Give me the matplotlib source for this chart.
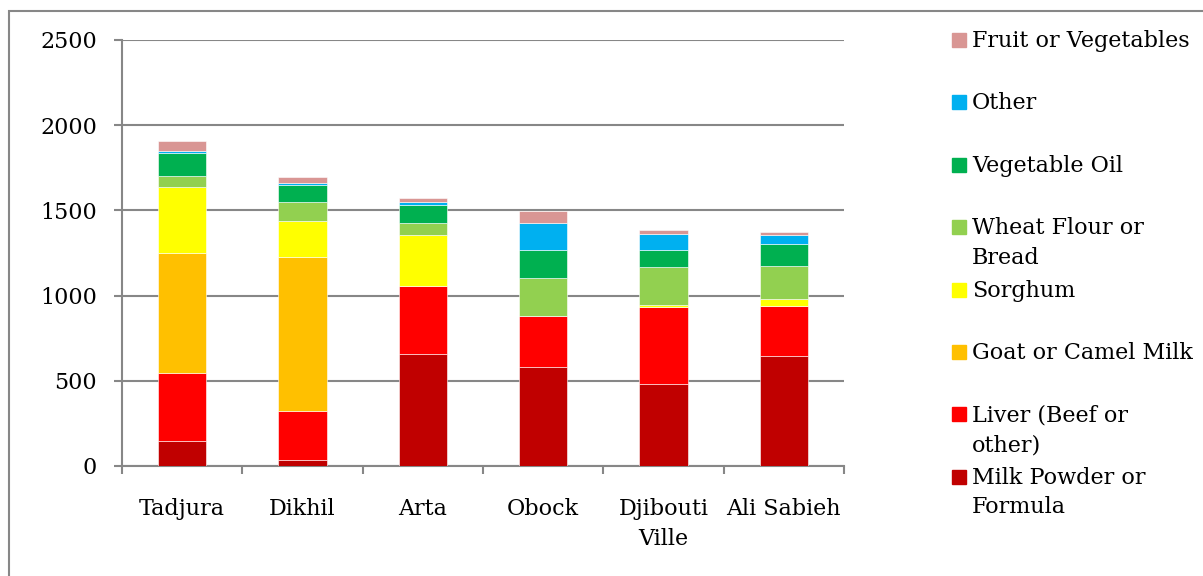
import matplotlib
matplotlib.use("Agg")
from matplotlib import pyplot as plt
from matplotlib.patches import Rectangle
import numpy as np

regions = ["Tadjura", "Dikhil", "Arta", "Obock", "Djibouti\nVille", "Ali Sabieh"]

# stacked from the bottom up
milk_powder = [145, 37, 655, 579, 479, 645]
liver = [402, 285, 402, 302, 455, 293]
goat_milk = [703, 905, 0, 0, 0, 0]
sorghum = [385, 211, 297, 0, 10, 43]
wheat_flour = [67, 109, 69, 225, 221, 191]
veg_oil = [134, 104, 111, 164, 105, 128]
other = [12, 12, 17, 158, 90, 58]
fruit_veg = [57, 31, 20, 67, 25, 15]

series = [milk_powder, liver, goat_milk, sorghum, wheat_flour, veg_oil, other, fruit_veg]
names = ["Milk Powder or\nFormula", "Liver (Beef or\nother)", "Goat or Camel Milk",
         "Sorghum", "Wheat Flour or\nBread", "Vegetable Oil", "Other",
         "Fruit or Vegetables"]
colors = ["#C00000", "#FF0000", "#FFC000", "#FFFF00", "#92D050", "#00B050",
          "#00B0F0", "#D99694"]

plt.rcParams["font.family"] = ["DejaVu Serif"]
grey = "#878787"

fig = plt.figure(figsize=(12.03, 5.76), dpi=100)
ax = fig.add_axes([0.1014, 0.191, 0.6002, 0.7396])

x = np.arange(len(regions))
bottom = np.zeros(len(regions))
for vals, col in zip(series, colors):
    ax.bar(x, vals, width=0.4, bottom=bottom, color=col,
           edgecolor="white", linewidth=0.4, zorder=3)
    bottom += np.array(vals)

ax.set_xlim(-0.5, len(regions) - 0.5)
ax.set_ylim(0, 2500)
ax.set_yticks(range(0, 2501, 500))
ax.yaxis.grid(True, color=grey, linewidth=1.5, zorder=0)

ax.set_xticks(x)
ax.set_xticklabels(regions, fontsize=16, linespacing=1.45)
ax.set_xticks(np.arange(-0.5, len(regions)), minor=True)
ax.tick_params(axis="x", which="major", length=0, pad=23)
ax.tick_params(axis="x", which="minor", length=6, width=1.5, color=grey,
               direction="out")
ax.tick_params(axis="y", length=6, width=1.5, color=grey, pad=12, labelsize=16)

for side in ["top", "right"]:
    ax.spines[side].set_visible(False)
for side in ["left", "bottom"]:
    ax.spines[side].set_color(grey)
    ax.spines[side].set_linewidth(1.5)

# legend, top entry first
W, H = 1203, 576
for i, (name, col) in enumerate(zip(names[::-1], colors[::-1])):
    top = 30 + i * 62.4
    fig.add_artist(Rectangle((952 / W, 1 - (top + 17) / H), 14 / W, 14 / H,
                             transform=fig.transFigure, color=col))
    fig.text(972 / W, 1 - top / H, name, fontsize=16, va="top", ha="left",
             linespacing=1.45)

# outer frame (cut off at right and bottom)
fig.add_artist(Rectangle((9 / W, -0.1), 1.2, 1.1 - 11 / H,
                         transform=fig.transFigure, fill=False,
                         edgecolor=grey, linewidth=1.5))

fig.savefig("out.png", dpi=100)
